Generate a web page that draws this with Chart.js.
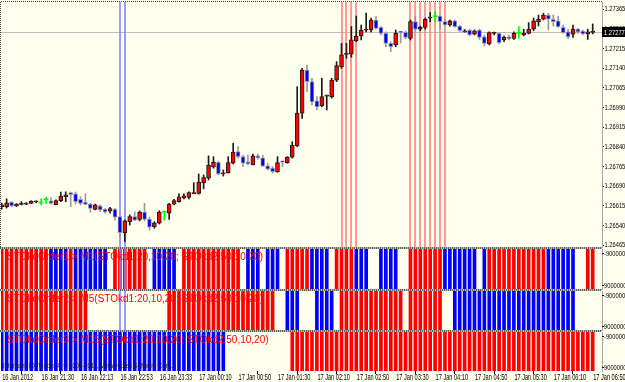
<!DOCTYPE html>
<html><head><meta charset="utf-8">
<script src="https://cdn.jsdelivr.net/npm/chart.js@4.4.1/dist/chart.umd.min.js"></script>
<style>
html,body{margin:0;padding:0;background:#FFFFF0;}
#wrap{position:relative;width:625px;height:382px;overflow:hidden;background:#FFFFF0;}
.pane{position:absolute;left:0;width:625px;}
.sep{position:absolute;left:0;width:602px;height:2px;z-index:5;background:repeating-linear-gradient(90deg,#606060 0 1px,#B8B8B8 1px 2px);}
</style></head><body>
<div id="wrap">
  <div class="pane" style="top:0;height:248px"><canvas id="c0" width="625" height="248"></canvas></div>
  <div class="pane" style="top:248px;height:42px"><canvas id="c1" width="625" height="42"></canvas></div>
  <div class="pane" style="top:290px;height:41px"><canvas id="c2" width="625" height="41"></canvas></div>
  <div class="pane" style="top:331px;height:51px"><canvas id="c3" width="625" height="51"></canvas></div>
  <div class="sep" style="top:247px"></div>
  <div class="sep" style="top:289px"></div>
  <div class="sep" style="top:330px"></div>
</div>
<script>
// ---------------- DATA ----------------
const open = [
1.26610,1.26611,1.26629,1.26614,1.26620,1.26621,1.26624,1.26630,1.26625,1.26637,
1.26633,1.26619,1.26634,1.26649,1.26665,1.26660,1.26639,1.26629,1.26621,1.26601,
1.26614,1.26601,1.26594,1.26601,1.26573,1.26512,1.26554,1.26573,1.26563,1.26591,
1.26564,1.26535,1.26548,1.26590,1.26586,1.26621,1.26630,1.26644,1.26646,1.26661,
1.26662,1.26703,1.26720,1.26763,1.26780,1.26736,1.26740,1.26777,1.26821,1.26802,
1.26782,1.26770,1.26805,1.26797,1.26767,1.26758,1.26745,1.26783,1.26779,1.26800,
1.26843,1.26968,1.27132,1.27088,1.27015,1.26995,1.27033,1.27031,1.27094,1.27145,
1.27192,1.27193,1.27244,1.27262,1.27284,1.27285,1.27323,1.27295,1.27272,1.27234,
1.27228,1.27277,1.27276,1.27253,1.27317,1.27288,1.27295,1.27330,1.27336,1.27338,
1.27317,1.27304,1.27320,1.27300,1.27278,1.27285,1.27269,1.27285,1.27259,1.27232,
1.27272,1.27272,1.27247,1.27259,1.27253,1.27272,1.27266,1.27272,1.27288,1.27317,
1.27326,1.27342,1.27326,1.27320,1.27295,1.27278,1.27269,1.27288,1.27281,1.27270,
1.27276];
const high = [
1.26625,1.26641,1.26630,1.26623,1.26630,1.26627,1.26634,1.26633,1.26642,1.26648,
1.26646,1.26637,1.26667,1.26668,1.26667,1.26667,1.26649,1.26660,1.26624,1.26621,
1.26618,1.26605,1.26609,1.26605,1.26580,1.26560,1.26580,1.26592,1.26595,1.26624,
1.26571,1.26554,1.26596,1.26595,1.26624,1.26639,1.26660,1.26660,1.26668,1.26703,
1.26736,1.26732,1.26805,1.26802,1.26785,1.26751,1.26802,1.26853,1.26840,1.26808,
1.26808,1.26812,1.26812,1.26808,1.26777,1.26764,1.26802,1.26785,1.26802,1.26859,
1.27069,1.27139,1.27151,1.27101,1.27031,1.27101,1.27037,1.27101,1.27164,1.27234,
1.27234,1.27298,1.27338,1.27304,1.27349,1.27330,1.27336,1.27298,1.27278,1.27240,
1.27285,1.27279,1.27281,1.27323,1.27338,1.27300,1.27330,1.27351,1.27355,1.27342,
1.27326,1.27323,1.27323,1.27302,1.27287,1.27288,1.27285,1.27288,1.27266,1.27278,
1.27277,1.27275,1.27262,1.27266,1.27278,1.27298,1.27288,1.27313,1.27330,1.27342,
1.27349,1.27349,1.27342,1.27338,1.27304,1.27288,1.27304,1.27291,1.27285,1.27288,
1.27308];
const low = [
1.26602,1.26606,1.26611,1.26612,1.26618,1.26619,1.26623,1.26626,1.26618,1.26624,
1.26621,1.26618,1.26630,1.26630,1.26611,1.26621,1.26618,1.26618,1.26590,1.26599,
1.26592,1.26586,1.26586,1.26560,1.26494,1.26478,1.26541,1.26557,1.26557,1.26557,
1.26522,1.26529,1.26545,1.26560,1.26563,1.26618,1.26628,1.26641,1.26641,1.26660,
1.26659,1.26679,1.26713,1.26758,1.26732,1.26728,1.26739,1.26774,1.26796,1.26764,
1.26770,1.26770,1.26793,1.26764,1.26751,1.26739,1.26742,1.26764,1.26777,1.26796,
1.26840,1.26948,1.27050,1.26999,1.26980,1.26992,1.26980,1.27025,1.27088,1.27139,
1.27177,1.27181,1.27240,1.27247,1.27278,1.27278,1.27288,1.27266,1.27221,1.27202,
1.27221,1.27235,1.27251,1.27247,1.27282,1.27282,1.27288,1.27317,1.27317,1.27288,
1.27298,1.27300,1.27295,1.27279,1.27277,1.27262,1.27266,1.27249,1.27224,1.27228,
1.27266,1.27232,1.27240,1.27247,1.27249,1.27253,1.27262,1.27270,1.27282,1.27300,
1.27323,1.27285,1.27300,1.27295,1.27272,1.27253,1.27257,1.27272,1.27266,1.27249,
1.27270];
const close = [
1.26618,1.26626,1.26614,1.26621,1.26625,1.26625,1.26632,1.26631,1.26625,1.26637,
1.26624,1.26634,1.26652,1.26656,1.26657,1.26630,1.26624,1.26620,1.26605,1.26618,
1.26599,1.26591,1.26604,1.26571,1.26512,1.26557,1.26573,1.26560,1.26590,1.26563,
1.26533,1.26550,1.26591,1.26590,1.26621,1.26634,1.26649,1.26653,1.26665,1.26662,
1.26705,1.26722,1.26769,1.26780,1.26736,1.26740,1.26779,1.26819,1.26802,1.26777,
1.26774,1.26805,1.26797,1.26766,1.26754,1.26745,1.26779,1.26782,1.26800,1.26846,
1.26968,1.27132,1.27088,1.27011,1.26992,1.27031,1.27034,1.27094,1.27149,1.27190,
1.27193,1.27247,1.27262,1.27285,1.27285,1.27323,1.27291,1.27272,1.27234,1.27221,
1.27272,1.27276,1.27257,1.27317,1.27288,1.27295,1.27326,1.27331,1.27336,1.27317,
1.27304,1.27320,1.27298,1.27282,1.27280,1.27266,1.27282,1.27257,1.27234,1.27275,
1.27275,1.27237,1.27257,1.27251,1.27272,1.27272,1.27272,1.27288,1.27320,1.27326,
1.27342,1.27326,1.27317,1.27298,1.27275,1.27259,1.27288,1.27278,1.27270,1.27278,
1.27277];

// indicator states per bar: 1 = red, -1 = blue, 0 = none
const ind1 = [
 1, 1, 1, 1, 1, 1, 1, 1, 1, 1,
-1,-1,-1,-1, 1,-1,-1,-1,-1,-1,
-1,-1, 0, 1, 1, 1, 1, 1, 1, 1,
 0,-1,-1,-1,-1,-1, 0, 1, 1, 1,
 1, 1, 1, 1, 1, 1, 1, 1, 1, 0,
-1,-1,-1, 0,-1,-1,-1, 0, 1, 1,
 1, 1, 1,-1,-1,-1,-1, 0, 1, 1,
 1, 1,-1,-1,-1, 0, 0,-1,-1,-1,
-1, 0, 0, 1, 1, 1, 1, 1, 1, 1,
-1,-1,-1,-1,-1,-1,-1, 0,-1, 1,
 1, 1, 1, 1, 1, 1, 1, 1, 1, 1,
 1,-1,-1,-1,-1,-1,-1, 0, 0, 1,
 1];
const ind2 = [
 1, 1, 1, 1, 1, 1, 1, 1, 1, 1,
 1, 1, 1, 1, 1, 1, 1, 1, 0, 0,
 0, 0, 0, 0, 0, 0, 0, 0, 0, 0,
 0, 0, 0, 0, 1, 1, 1, 1, 1, 1,
 1, 1, 1, 1, 1, 1, 1, 1, 1, 1,
 1, 1, 1, 1, 1, 1, 0, 0,-1,-1,
-1, 0, 0, 0,-1,-1,-1,-1, 0, 1,
 1, 1, 1, 1, 1, 1, 1, 1, 1, 1,
 1, 1, 0, 1, 1, 1, 1, 1, 1, 1,
 0, 0,-1,-1,-1,-1,-1,-1,-1,-1,
-1,-1,-1,-1,-1,-1,-1,-1,-1,-1,
-1,-1,-1,-1,-1,-1,-1, 0, 0, 0,
 0];
const ind3 = [
-1,-1,-1,-1,-1,-1,-1,-1,-1,-1,
-1,-1,-1,-1,-1,-1,-1,-1,-1,-1,
-1,-1,-1,-1,-1,-1,-1,-1,-1,-1,
-1,-1,-1,-1,-1,-1,-1,-1,-1,-1,
-1,-1,-1,-1,-1,-1, 0, 0, 0, 0,
 0, 0, 0, 0, 0, 0, 0, 0, 0, 1,
 1, 1, 1, 1, 1, 1, 1, 1, 1, 1,
 1, 1, 1, 1, 1, 1, 1, 1, 1, 1,
 1, 1, 1, 1, 1, 1, 1, 1, 1, 1,
 1, 1, 1, 1, 1, 1, 1, 1, 1, 1,
 1, 1, 1, 1, 1, 1, 1, 1, 1, 1,
 1, 1, 1, 1, 1, 1, 1, 1, 1, 1,
 1];

const timeTickIdx = [0,8,16,24,32,40,48,56,64,72,80,88,96,104,112,120];
const timeTickLabels = ['16 Jan 2012','16 Jan 21:30','16 Jan 22:13','16 Jan 22:53','16 Jan 23:33',
  '17 Jan 00:10','17 Jan 00:50','17 Jan 01:30','17 Jan 02:10','17 Jan 02:50','17 Jan 03:30',
  '17 Jan 04:10','17 Jan 04:50','17 Jan 05:30','17 Jan 06:10','17 Jan 06:50'];
const priceTicks = [1.26465,1.26540,1.26615,1.26690,1.26765,1.26840,1.26915,1.26990,1.27065,1.27140,1.27215,1.27290,1.27365];
const panelTitles = [
  'STOkdOrder1 > M1(STOkd1:20,10,20; STOkd2:50,10,20)',
  'STOkdOrder2 > M5(STOkd1:20,10,20; STOkd2:50,10,20)',
  'STOkdOrder3 > M15(STOkd1:20,10,20; STOkd2:50,10,20)'];
const panelRange = [-9000000, 9000000];
const redLineBars = [69,70,71,72,83,84,85,86,87,88,89,90];
const blueLineBars = [24,25];
const footerText = 'Interbank FX Trader 4, \u00A9 2001-2011, MetaQuotes Software Corp.';

// ---------------- RENDER ----------------
const N = open.length;
const idx = open.map((_, i) => i);
const kind = idx.map(i => close[i] > open[i] ? 'up' : (close[i] < open[i] ? 'dn' : 'eq'));
const FILL = {up:'#FF0000', dn:'#0000FF', eq:'#00FF00'};
const EDGE = {up:'#1A1A1A', dn:'#9A9A9A', eq:'#00FF00'};
const FAM = "'Liberation Sans', Arial, sans-serif";
const XMIN = -0.142, XMAX = 121.89;

function squeeze(ctx, txt, x, y, size, sx, color){
  ctx.save();
  ctx.font = size + 'px ' + FAM; ctx.fillStyle = color;
  ctx.textBaseline = 'middle'; ctx.textAlign = 'left';
  ctx.translate(x, y); ctx.scale(sx, 1); ctx.fillText(txt, 0, 0);
  ctx.restore();
}

function xAxis(show){
  const ax = {type:'linear', min:XMIN, max:XMAX, display:show, offset:false};
  if (show) {
    Object.assign(ax, {
      position:'bottom',
      afterBuildTicks: s => { s.ticks = timeTickIdx.map(v => ({value:v})); },
      ticks:{display:false, autoSkip:false, maxRotation:0, minRotation:0},
      grid:{drawOnChartArea:false, tickLength:3, color:'#000'},
      border:{display:false},
      afterFit: s => { s.height = 11; s.paddingLeft = 0; s.paddingRight = 0; }
    });
  }
  return ax;
}
function fixY(s){ s.width = 23; s.paddingTop = 0; s.paddingBottom = 0; }

const deco = {
  id:'deco',
  beforeDatasetsDraw(chart, args, o){
    const {ctx, chartArea:a, scales} = chart;
    ctx.save();
    if (o.priceLine != null){
      const y = Math.round(scales.y.getPixelForValue(o.priceLine)) + 0.5;
      ctx.strokeStyle = '#BDBDBD'; ctx.lineWidth = 1;
      ctx.beginPath(); ctx.moveTo(a.left, y); ctx.lineTo(a.right, y); ctx.stroke();
    }
    if (o.linesUnder) vlines(chart, o);
    ctx.restore();
  },
  afterDatasetsDraw(chart, args, o){
    const {ctx, chartArea:a} = chart;
    ctx.save();
    if (!o.linesUnder) vlines(chart, o);
    if (o.title){
      ctx.font = '10px ' + FAM;
      ctx.fillStyle = '#FF0000'; ctx.textBaseline = 'middle'; ctx.textAlign = 'left';
      ctx.fillText(o.title, 7, a.top + 8.5);
    }
    if (o.footer) squeeze(ctx, o.footer, 3, a.bottom - 5, 7.5, 0.78, '#202020');
    ctx.restore();
  },
  afterDraw(chart, args, o){
    const {ctx, chartArea:a, scales} = chart;
    ctx.save();
    if (o.priceAxis){
      scales.y.ticks.forEach(t => {
        squeeze(ctx, t.value.toFixed(5), 604.5, scales.y.getPixelForValue(t.value), 8, 0.72, '#000');
      });
    }
    if (o.timeAxis){
      scales.x.ticks.forEach((t, k) => {
        squeeze(ctx, timeTickLabels[k], scales.x.getPixelForValue(t.value) + 0.5, a.bottom + 6.5, 8.5, 0.66, '#000');
      });
    }
    if (o.sideLabels){
      ctx.fillStyle = '#000';
      ctx.fillRect(602, a.top + 4, 2, 1); ctx.fillRect(602, a.bottom - 4, 2, 1);
      squeeze(ctx, String(o.sideLabels[0]), 604, a.top + 4.5, 8, 0.72, '#000');
      squeeze(ctx, String(o.sideLabels[1]), 604, a.bottom - 3.5, 8, 0.72, '#000');
    }
    if (o.lastPrice != null){
      const y = Math.round(scales.y.getPixelForValue(o.lastPrice));
      ctx.fillStyle = '#000'; ctx.fillRect(602, y - 5, 23, 10);
      squeeze(ctx, o.lastPrice.toFixed(5), 604, y + 0.5, 8, 0.72, '#FFFFFF');
    }
    if (o.frame){
      ctx.strokeStyle = '#404040'; ctx.lineWidth = 1; ctx.setLineDash([1,1]);
      ctx.beginPath();
      ctx.moveTo(a.right, a.top - 0.5); ctx.lineTo(a.left - 0.5, a.top - 0.5); ctx.lineTo(a.left - 0.5, a.bottom);
      ctx.stroke();
    }
    ctx.restore();
  }
};
function vlines(chart, o){
  const {ctx, chartArea:a, scales} = chart;
  const draw = (list, col) => {
    (list || []).forEach(i => {
      const x = Math.round(scales.x.getPixelForValue(i));
      ctx.fillStyle = col; ctx.fillRect(x - 1, a.top, 2, a.bottom - a.top);
    });
  };
  draw(o.red, 'rgba(255,120,120,0.75)');
  draw(o.blue, 'rgba(130,130,255,0.8)');
}

const base = {
  responsive:false, animation:false, events:[],
  plugins:{legend:{display:false}, tooltip:{enabled:false}}
};

// main price chart
new Chart(document.getElementById('c0'), {
  type:'bar',
  data:{datasets:[
    {data: idx.map(i => ({x:i, y:[low[i], high[i]]})), backgroundColor: idx.map(i => EDGE[kind[i]]),
     barThickness:1, grouped:false, order:2},
    {data: idx.map(i => ({x:i, y:[Math.min(open[i], close[i]), Math.max(open[i], close[i])]})),
     backgroundColor: idx.map(i => FILL[kind[i]]), borderColor: idx.map(i => EDGE[kind[i]]),
     borderWidth: idx.map(i => kind[i] === 'eq' ? 0 : 1), borderSkipped:false, minBarLength:1,
     barThickness:4, grouped:false, order:1}
  ]},
  options:Object.assign({}, base, {
    layout:{padding:{left:1, top:2, right:0, bottom:1}},
    scales:{
      x: xAxis(false),
      y:{position:'right', min:1.264574, max:1.273917,
         afterBuildTicks: s => { s.ticks = priceTicks.map(v => ({value:v})); },
         ticks:{display:false},
         grid:{drawOnChartArea:false, tickLength:2, color:'#000'},
         border:{color:'#A8A8A8'},
         afterFit: fixY}
    },
    plugins:Object.assign({}, base.plugins, {deco:{priceLine: close[N-1], lastPrice: close[N-1], priceAxis:true,
      red: redLineBars, blue: blueLineBars, linesUnder:true, frame:true}})
  }),
  plugins:[deco]
});

function panel(id, ind, title, extra, showX){
  const on = idx.filter(i => ind[i] !== 0);
  return new Chart(document.getElementById(id), {
    type:'bar',
    data:{datasets:[{
      data: on.map(i => ({x:i, y:[panelRange[0], panelRange[1]]})),
      backgroundColor: on.map(i => ind[i] > 0 ? '#FF0000' : '#0000FF'),
      barThickness:3, grouped:false
    }]},
    options:Object.assign({}, base, {
      layout:{padding:{left:1, top:1, right:0, bottom: showX ? 0 : 1}},
      scales:{
        x: xAxis(showX),
        y:{position:'right', reverse:true, min:panelRange[0], max:panelRange[1],
           ticks:{display:false}, grid:{display:false}, border:{color:'#A8A8A8'}, afterFit: fixY}
      },
      plugins:Object.assign({}, base.plugins, {deco:Object.assign({title: title, sideLabels: panelRange, timeAxis: showX}, extra)})
    }),
    plugins:[deco]
  });
}
panel('c1', ind1, panelTitles[0], {blue: blueLineBars}, false);
panel('c2', ind2, panelTitles[1], {blue: blueLineBars}, false);
panel('c3', ind3, panelTitles[2], {footer: footerText}, true);
</script>
</body></html>
